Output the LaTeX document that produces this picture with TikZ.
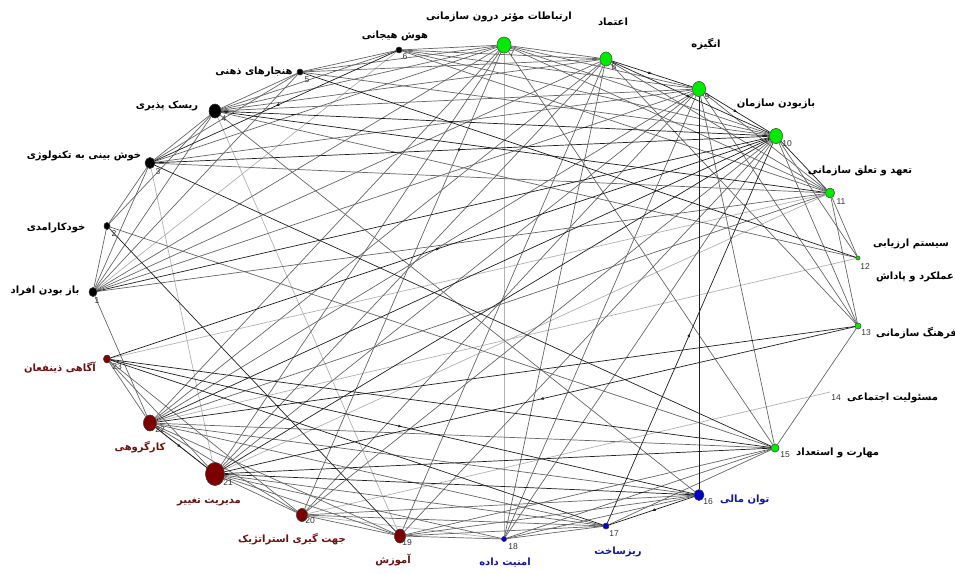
\documentclass[tikz,border=0pt]{standalone}
\usepackage{fontspec}
\usetikzlibrary{shapes.geometric,arrows.meta,decorations.markings}
\TeXXeTstate=1
\newfontfamily\fa[Script=Arabic]{DejaVu Sans}
\newfontfamily\numf{Liberation Sans}
\definecolor{ngreen}{RGB}{0,235,0}
\definecolor{nblue}{RGB}{0,0,200}
\definecolor{nred}{RGB}{125,0,0}
\definecolor{tblue}{RGB}{20,20,170}
\definecolor{tred}{RGB}{110,15,15}
\tikzset{
  vx/.style={ellipse,inner sep=0pt,draw=black!70,line width=0.4pt},
  blk/.style={vx,fill=black},
  grn/.style={vx,fill=ngreen},
  blu/.style={vx,fill=nblue},
  red/.style={vx,fill=nred},
  lab/.style={font=\fa\bfseries\fontsize{10}{12}\selectfont,inner sep=0pt},
  num/.style={font=\numf\fontsize{8.5}{9}\selectfont,text=black!80,inner sep=0pt},
  ed/.style={draw=black!88,line width=0.7pt},
  em/.style={draw=black!60,line width=0.7pt},
  el/.style={draw=black!30,line width=0.7pt},
  midarr/.style={postaction={decorate},decoration={markings,mark=at position 0.5 with {\arrow{Latex[length=4pt,width=3pt]}}}}
}
\begin{document}
\begin{tikzpicture}[x=1pt,y=-1pt]
\useasboundingbox[fill=white] (0,0) rectangle (955,573);
% vertices (named, used as connector ends)
\node[blk,minimum width=8pt,minimum height=9pt] (n1) at (93,292) {};
\node[blk,minimum width=6pt,minimum height=7pt] (n2) at (107,226) {};
\node[blk,minimum width=10pt,minimum height=11pt] (n3) at (150,163) {};
\node[blk,minimum width=12pt,minimum height=14pt] (n4) at (215,111) {};
\node[blk,minimum width=6pt,minimum height=6pt] (n5) at (300,72) {};
\node[blk,minimum width=6pt,minimum height=6pt] (n6) at (399,50) {};
\node[grn,minimum width=14pt,minimum height=16pt] (n7) at (504,45) {};
\node[grn,minimum width=12pt,minimum height=14pt] (n8) at (606,59) {};
\node[grn,minimum width=13pt,minimum height=15pt] (n9) at (699,89) {};
\node[grn,minimum width=13pt,minimum height=15pt] (n10) at (776,136) {};
\node[grn,minimum width=9pt,minimum height=10pt] (n11) at (830,193) {};
\node[grn,minimum width=4pt,minimum height=4pt] (n12) at (858,258) {};
\node[grn,minimum width=6pt,minimum height=6pt] (n13) at (858,326) {};
\coordinate (n14) at (830,392);
\node[grn,minimum width=8pt,minimum height=8pt] (n15) at (775,448) {};
\node[blu,minimum width=10pt,minimum height=11pt] (n16) at (699,495) {};
\node[blu,minimum width=6pt,minimum height=6pt] (n17) at (606,526) {};
\node[blu,minimum width=5pt,minimum height=5pt] (n18) at (504,539) {};
\node[red,minimum width=11pt,minimum height=14pt] (n19) at (400,536) {};
\node[red,minimum width=11pt,minimum height=13pt] (n20) at (302,515) {};
\node[red,minimum width=19pt,minimum height=23pt] (n21) at (215,474) {};
\node[red,minimum width=13pt,minimum height=16pt] (n22) at (150,423) {};
\node[red,minimum width=7pt,minimum height=8pt] (n23) at (107,359) {};
% connectors
\foreach \a/\b in {1/6,4/19,7/18,14/20,11/21,3/21,18/20,12/22,11/23}
  \draw[el] (n\a) -- (n\b);
\foreach \a/\b in {1/2,1/3,1/4,1/5,1/7,1/8,1/9,1/11,1/22,2/3,2/4,2/15,3/4,3/5,3/7,3/9,3/11,
  4/5,4/6,4/7,4/8,4/9,4/12,4/16,5/6,5/7,5/8,5/10,6/7,6/8,6/9,6/10,6/11,7/8,7/9,7/10,7/11,7/15,7/21,7/22,7/20,
  8/11,8/13,8/18,8/21,8/22,8/19,9/11,9/13,9/15,9/18,9/21,9/22,9/20,10/12,10/13,10/19,10/20,10/18,
  11/12,11/13,11/22,13/15,15/17,15/18,15/19,15/22,16/18,16/19,16/20,16/22,
  17/18,17/19,17/20,17/21,17/22,18/19,18/21,19/20,19/21,19/22,20/21,20/22,20/23,21/22,21/23,22/23}
  \draw[em] (n\a) -- (n\b);
\foreach \a/\b in {1/10,4/10,4/11,3/15,5/12,9/16,10/11,10/21,10/22,13/22,15/23,16/21,17/23,2/19,15/21}
  \draw[ed] (n\a) -- (n\b);
\foreach \a/\b in {6/3,3/10,23/16,16/17,17/10,13/21,23/10,22/21,8/9,9/10,8/10}
  \draw[ed,midarr] (n\a) -- (n\b);
% vertices again, on top of the connectors
\node[blk,minimum width=8pt,minimum height=9pt] at (n1) {};
\node[blk,minimum width=6pt,minimum height=7pt] at (n2) {};
\node[blk,minimum width=10pt,minimum height=11pt] at (n3) {};
\node[blk,minimum width=12pt,minimum height=14pt] at (n4) {};
\node[blk,minimum width=6pt,minimum height=6pt] at (n5) {};
\node[blk,minimum width=6pt,minimum height=6pt] at (n6) {};
\node[grn,minimum width=14pt,minimum height=16pt] at (n7) {};
\node[grn,minimum width=12pt,minimum height=14pt] at (n8) {};
\node[grn,minimum width=13pt,minimum height=15pt] at (n9) {};
\node[grn,minimum width=13pt,minimum height=15pt] at (n10) {};
\node[grn,minimum width=9pt,minimum height=10pt] at (n11) {};
\node[grn,minimum width=4pt,minimum height=4pt] at (n12) {};
\node[grn,minimum width=6pt,minimum height=6pt] at (n13) {};
\node[grn,minimum width=8pt,minimum height=8pt] at (n15) {};
\node[blu,minimum width=10pt,minimum height=11pt] at (n16) {};
\node[blu,minimum width=6pt,minimum height=6pt] at (n17) {};
\node[blu,minimum width=5pt,minimum height=5pt] at (n18) {};
\node[red,minimum width=11pt,minimum height=14pt] at (n19) {};
\node[red,minimum width=11pt,minimum height=13pt] at (n20) {};
\node[red,minimum width=19pt,minimum height=23pt] at (n21) {};
\node[red,minimum width=13pt,minimum height=16pt] at (n22) {};
\node[red,minimum width=7pt,minimum height=8pt] at (n23) {};
% numbers
\foreach \n/\x/\y in {1/97/301,2/114/234,3/158/172,4/224/119,5/307/80,6/405/57,7/512/54,8/614/67,9/707/97,
  10/787/144,11/841/202,12/865/267,13/866/333,14/836/398,15/785/455,16/708/502,17/614/534,18/513/547,
  19/407/543,20/310/521,21/228/483,22/160/430,23/117/367}
  \node[num] (k\n) at (\x,\y) {\n};
% labels
\node[lab] (l1) at (45,291) {\beginR باز بودن افراد\endR};
\node[lab] (l2) at (56,228) {\beginR خودکارامدی\endR};
\node[lab] (l3) at (84,156) {\beginR خوش بینی به تکنولوژی\endR};
\node[lab] (l4) at (167,106) {\beginR ریسک پذیری\endR};
\node[lab] (l5) at (254,72) {\beginR هنجارهای ذهنی\endR};
\node[lab] (l6) at (395,36) {\beginR هوش هیجانی\endR};
\node[lab] (l7) at (499,17) {\beginR ارتباطات مؤثر درون سازمانی\endR};
\node[lab] (l8) at (613,22) {\beginR اعتماد\endR};
\node[lab] (l9) at (706,44) {\beginR انگیزه\endR};
\node[lab] (l10) at (776,104) {\beginR بازبودن سازمان\endR};
\node[lab] (l11) at (860,171) {\beginR تعهد و تعلق سازمانی\endR};
\node[lab] (l12a) at (911,244) {\beginR سیستم ارزیابی\endR};
\node[lab] (l12b) at (915,277) {\beginR عملکرد و پاداش\endR};
\node[lab,anchor=west] (l13) at (876,333) {\beginR فرهنگ سازمانی\endR};
\node[lab,anchor=west] (l14) at (847,398) {\beginR مسئولیت اجتماعی\endR};
\node[lab,anchor=west] (l15) at (796,453) {\beginR مهارت و استعداد\endR};
\node[lab,text=tblue,anchor=west] (l16) at (720,500) {\beginR توان مالی\endR};
\node[lab,text=tblue] (l17) at (618,552) {\beginR ریزساخت\endR};
\node[lab,text=tblue] (l18) at (505,563) {\beginR امنیت داده\endR};
\node[lab,text=tred] (l19) at (393,560) {\beginR آموزش\endR};
\node[lab,text=tred] (l20) at (292,539) {\beginR جهت گیری استراتژیک\endR};
\node[lab,text=tred] (l21) at (209,502) {\beginR مدیریت تغییر\endR};
\node[lab,text=tred] (l22) at (140,447) {\beginR کارگروهی\endR};
\node[lab,text=tred] (l23) at (60,368) {\beginR آگاهی ذینفعان\endR};
\end{tikzpicture}
\end{document}
